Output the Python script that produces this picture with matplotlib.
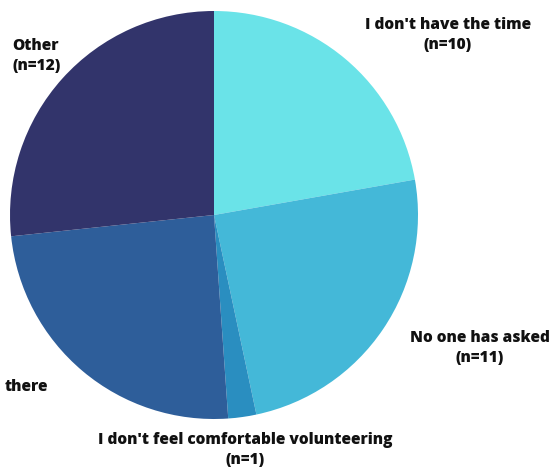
import matplotlib
matplotlib.use("Agg")
import matplotlib.pyplot as plt

# survey responses: reasons for not volunteering
labels = [
    "I don't have the time\n(n=10)",
    "No one has asked\n(n=11)",
    "I don't feel comfortable volunteering\n(n=1)",
    "there",
    "Other\n(n=12)",
]
counts = [10, 11, 1, 11, 12]
colors = ["#6AE3E8", "#44B8D8", "#2A8EC0", "#2E5E9A", "#32346B"]

# label anchor points in figure pixels (x, y from top) and alignment
label_pos = [(448, 35), (480, 348), (245, 450), (5, 387), (12, 56)]
label_ha = ["center", "center", "center", "left", "left"]

W, H = 550, 470
fig = plt.figure(figsize=(W / 100, H / 100), dpi=100)
cx, cy, r = 214, 215, 204
ax = fig.add_axes([(cx - r) / W, (H - cy - r) / H, 2 * r / W, 2 * r / H])
ax.pie(counts, colors=colors, startangle=90, counterclock=False,
       radius=1, wedgeprops=dict(linewidth=0))
ax.set_xlim(-1, 1)
ax.set_ylim(-1, 1)
ax.set_aspect("auto")
ax.axis("off")

for text, (px, py), ha in zip(labels, label_pos, label_ha):
    fig.text(px / W, 1 - py / H, text, ha=ha, va="center",
             multialignment="center" if ha == "center" else "left",
             fontsize=11.2, fontweight=800, family="Open Sans",
             color="#111111", linespacing=1.4)

fig.savefig("out.png", dpi=100)
